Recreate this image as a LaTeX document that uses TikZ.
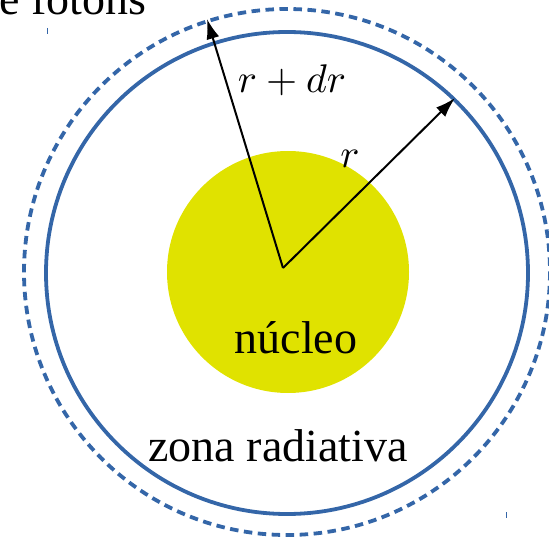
\documentclass[tikz,border=0pt]{standalone}
\usepackage{fontspec}
\setmainfont{Liberation Serif}
\usetikzlibrary{arrows.meta}
\definecolor{ringblue}{RGB}{52,102,168}
\definecolor{coreyellow}{RGB}{224,226,0}
\begin{document}
\begin{tikzpicture}[x=1pt,y=-1pt,
  ring/.style={draw=ringblue,line width=3.8pt},
  dashring/.style={draw=ringblue,line width=3.8pt,dash pattern=on 8.5pt off 5.5pt},
  radius arrow/.style={draw=black,line width=2pt,-{Latex[length=20pt,width=13pt]}},
  lbl/.style={inner sep=0pt,font=\fontsize{46}{55}\selectfont},
  mlbl/.style={inner sep=0pt,font=\normalsize},
  tick/.style={draw=ringblue,line width=1pt}]
\useasboundingbox (0,0) rectangle (549,540);
\fill[coreyellow] (288,272) circle[radius=121];
\draw[ring] (287,273) circle[radius=241];
\draw[dashring] (287,272) circle[radius=263];
\coordinate (o) at (283,268);
\coordinate (t1) at (207,19);
\coordinate (t2) at (455,98);
\draw[radius arrow] (o) -- (t1);
\draw[radius arrow] (o) -- (t2);
\node[mlbl,anchor=base] (rdr) at (292,93) {\scalebox{4}{$r+dr$}};
\node[mlbl,anchor=base] (r) at (350,168) {\scalebox{4}{$r$}};
\node[lbl,anchor=base] (nuc) at (296,353) {núcleo};
\node[lbl,anchor=base] (zona) at (278,461) {zona radiativa};
\node[lbl,anchor=base west] (fot) at (-1,15) {e fotons};
\draw[tick] (47,28) -- (47,34);
\draw[tick] (506,512) -- (506,518);
\end{tikzpicture}
\end{document}
